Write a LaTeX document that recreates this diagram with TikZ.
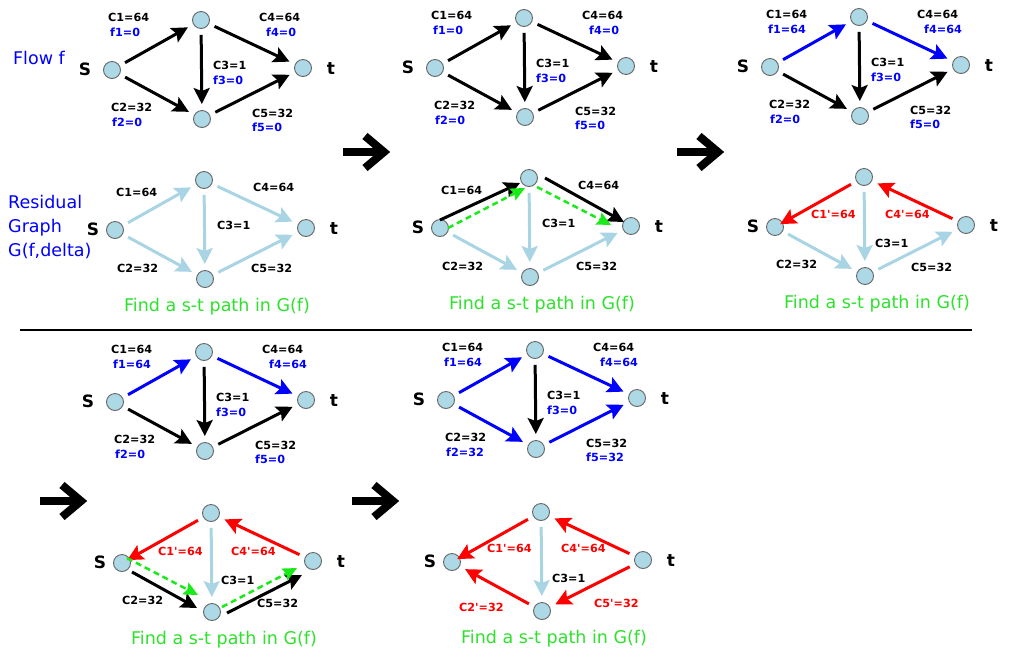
\documentclass[tikz,border=0pt]{standalone}
\usepackage{fontspec}
\setmainfont{DejaVu Sans}
\usetikzlibrary{arrows.meta,calc}

\definecolor{vtxfill}{RGB}{173,216,230}
\definecolor{resblue}{RGB}{168,212,228}
\definecolor{augreen}{RGB}{25,235,25}
\definecolor{txtgreen}{RGB}{45,225,45}

\tikzset{
  vtx/.style={circle,draw=black!60,line width=0.9pt,fill=vtxfill,minimum size=17pt,inner sep=0pt},
  endlbl/.style={font=\bfseries\fontsize{17}{20}\selectfont,inner sep=0pt},
  clbl/.style={font=\bfseries\fontsize{11.2}{13}\selectfont,anchor=west,inner sep=0pt},
  flbl/.style={clbl,text=blue},
  rlbl/.style={clbl,text=red},
  bigtxt/.style={font=\fontsize{17.5}{24}\selectfont,inner sep=0pt},
  findlbl/.style={bigtxt,text=txtgreen},
  netedge/.style={line width=3pt,-{Stealth[length=16pt,width=16pt,inset=3pt]},shorten <=6pt,shorten >=6pt},
  flowedge/.style={netedge,black},
  usededge/.style={netedge,blue},
  residedge/.style={netedge,resblue},
  backedge/.style={netedge,red},
  noshort/.style={shorten <=0pt,shorten >=0pt},
  augpath/.style={line width=2.5pt,augreen,dash pattern=on 6pt off 4pt,-{Stealth[length=14pt,width=13pt,inset=2pt]}},
  bigarrow/.pic={
    \draw[line width=8pt] (0,0) -- (40,0);
    \draw[line width=8pt] (22,-16) -- (41,0) -- (22,16);
  }
}

% four vertices of one network, s at the scope origin
\newcommand\vertices[2]{%
  \node[vtx] (#1s) at (0,0) {};
  \node[vtx] (#1u) at (89,-50) {};
  \node[vtx] (#1b) at (90,49) {};
  \node[vtx] (#1t) at (191,-2) {};
  \node[endlbl] (#1sname) at (#2,-1) {S};
  \node[endlbl] (#1tname) at (219,-1) {t};}

% capacities and flow values
\newcommand\flowlabels[6]{%
  \node[clbl] (#1c1) at (-4,-53) {C1=64};
  \node[flbl] (#1f1) at (-2,-38) {f1=#2};
  \node[clbl] (#1c4) at (147,-53) {C4=64};
  \node[flbl] (#1f4) at (154,-38) {f4=#5};
  \node[clbl] (#1c3) at (101,-5) {C3=1};
  \node[flbl] (#1f3) at (101,10) {f3=#4};
  \node[clbl] (#1c2) at (-1,37) {C2=32};
  \node[flbl] (#1f2) at (0,52) {f2=#3};
  \node[clbl] (#1c5) at (140,43) {C5=32};
  \node[flbl] (#1f5) at (140,57) {f5=#6};}

\newcommand\findpath[1]{%
  \node[findlbl] (#1find) at (102,77) {Find a s-t path in G(f)};}

\newcommand\rev{\textquotesingle}

\begin{document}
\begin{tikzpicture}[x=1pt,y=-1pt]
  \useasboundingbox (0,0) rectangle (1009,665);

  \node[bigtxt,text=blue] (flowname) at (39,58) {Flow f};
  \node[bigtxt,text=blue,align=left,anchor=west] (residname) at (8,227) {Residual\\Graph\\G(f,delta)};

  % flow f, step 0
  \begin{scope}[shift={(112,70)}]
    \vertices{a}{-27}
    \flowlabels{a}{0}{0}{0}{0}{0}
  \end{scope}
  \draw[flowedge] (as) -- (au);
  \draw[flowedge] (au) -- (at);
  \draw[flowedge] (au) -- (ab);
  \draw[flowedge] (as) -- (ab);
  \draw[flowedge] (ab) -- (at);

  \begin{scope}[shift={(115,230)}]
    \vertices{b}{-22}
    \node[clbl] (bc1) at (1,-38) {C1=64};
    \node[clbl] (bc4) at (138,-43) {C4=64};
    \node[clbl] (bc3) at (102,-5) {C3=1};
    \node[clbl] (bc2) at (2,38) {C2=32};
    \node[clbl] (bc5) at (136,38) {C5=32};
    \findpath{b}
  \end{scope}
  \draw[residedge] (bs) -- (bu);
  \draw[residedge] (bu) -- (bt);
  \draw[residedge] (bu) -- (bb);
  \draw[residedge] (bs) -- (bb);
  \draw[residedge] (bb) -- (bt);

  \pic (arrowone) at (343,152) {bigarrow};

  \begin{scope}[shift={(435,68)}]
    \vertices{c}{-27}
    \flowlabels{c}{0}{0}{0}{0}{0}
  \end{scope}
  \draw[flowedge] (cs) -- (cu);
  \draw[flowedge] (cu) -- (ct);
  \draw[flowedge] (cu) -- (cb);
  \draw[flowedge] (cs) -- (cb);
  \draw[flowedge] (cb) -- (ct);

  \begin{scope}[shift={(440,228)}]
    \vertices{d}{-22}
    \node[clbl] (dc1) at (1,-38) {C1=64};
    \node[clbl] (dc4) at (138,-43) {C4=64};
    \node[clbl] (dc3) at (102,-5) {C3=1};
    \node[clbl] (dc2) at (2,38) {C2=32};
    \node[clbl] (dc5) at (136,38) {C5=32};
    \findpath{d}
  \end{scope}
  \draw[residedge] (du) -- (db);
  \draw[residedge] (ds) -- (db);
  \draw[residedge] (db) -- (dt);
  \draw[flowedge,noshort] ($(ds)+(0,-8)$) -- ($(du)+(-9,5)$);
  \draw[flowedge,noshort] ($(du)+(16,0)$) -- ($(dt)+(-7,-4)$);
  \draw[augpath] ($(ds)+(8,0)$) -- ($(du)+(-4,10)$);
  \draw[augpath] ($(du)+(8,9)$) -- ($(dt)+(-20,-1)$);

  \pic (arrowtwo) at (677,152) {bigarrow};

  \begin{scope}[shift={(770,67)}]
    \vertices{e}{-27}
    \flowlabels{e}{64}{0}{0}{64}{0}
  \end{scope}
  \draw[usededge] (es) -- (eu);
  \draw[usededge] (eu) -- (et);
  \draw[flowedge] (eu) -- (eb);
  \draw[flowedge] (es) -- (eb);
  \draw[flowedge] (eb) -- (et);

  \begin{scope}[shift={(775,227)}]
    \vertices{f}{-22}
    \node[rlbl] (fc1) at (36,-13) {C1\rev=64};
    \node[rlbl] (fc4) at (110,-13) {C4\rev=64};
    \node[clbl] (fc3) at (100,16) {C3=1};
    \node[clbl] (fc2) at (1,37) {C2=32};
    \node[clbl] (fc5) at (136,40) {C5=32};
    \findpath{f}
  \end{scope}
  \draw[backedge,shorten >=-3pt] (fu) -- (fs);
  \draw[backedge] (ft) -- (fu);
  \draw[residedge] (fu) -- (fb);
  \draw[residedge] (fs) -- (fb);
  \draw[residedge] (fb) -- (ft);

  \draw[line width=2pt] (20,330) -- (972,330);

  % second augmentation
  \begin{scope}[shift={(115,402)}]
    \vertices{g}{-27}
    \flowlabels{g}{64}{0}{0}{64}{0}
  \end{scope}
  \draw[usededge] (gs) -- (gu);
  \draw[usededge] (gu) -- (gt);
  \draw[flowedge] (gu) -- (gb);
  \draw[flowedge] (gs) -- (gb);
  \draw[flowedge] (gb) -- (gt);

  \pic (arrowthree) at (40,501) {bigarrow};

  \begin{scope}[shift={(122,563)}]
    \vertices{h}{-22}
    \node[rlbl] (hc1) at (36,-12) {C1\rev=64};
    \node[rlbl] (hc4) at (109,-12) {C4\rev=64};
    \node[clbl] (hc3) at (99,17) {C3=1};
    \node[clbl] (hc2) at (0,37) {C2=32};
    \node[clbl] (hc5) at (135,40) {C5=32};
    \findpath{h}
  \end{scope}
  \draw[backedge,shorten >=-3pt] (hu) -- (hs);
  \draw[backedge] (ht) -- (hu);
  \draw[residedge] (hu) -- (hb);
  \draw[flowedge,noshort] ($(hs)+(10,9)$) -- ($(hb)+(-15,-4)$);
  \draw[flowedge,noshort] ($(hb)+(15,1)$) -- ($(ht)+(-11,14)$);
  \draw[augpath] ($(hs)+(5,-5)$) -- ($(hb)+(-14,-17)$);
  \draw[augpath] ($(hb)+(10,-5)$) -- ($(ht)+(-16,7)$);

  \pic (arrowfour) at (352,501) {bigarrow};

  \begin{scope}[shift={(446,400)}]
    \vertices{i}{-27}
    \flowlabels{i}{64}{32}{0}{64}{32}
  \end{scope}
  \draw[usededge] (is) -- (iu);
  \draw[usededge] (iu) -- (it);
  \draw[flowedge] (iu) -- (ib);
  \draw[usededge] (is) -- (ib);
  \draw[usededge] (ib) -- (it);

  \begin{scope}[shift={(452,562)}]
    \vertices{j}{-22}
    \node[rlbl] (jc1) at (35,-14) {C1\rev=64};
    \node[rlbl] (jc4) at (109,-14) {C4\rev=64};
    \node[clbl] (jc3) at (100,16) {C3=1};
    \node[rlbl] (jc2) at (7,45) {C2\rev=32};
    \node[rlbl] (jc5) at (142,41) {C5\rev=32};
    \findpath{j}
  \end{scope}
  \draw[backedge,shorten >=-3pt] (ju) -- (js);
  \draw[backedge] (jt) -- (ju);
  \draw[backedge] (jb) -- (js);
  \draw[backedge] (jt) -- (jb);
  \draw[residedge] (ju) -- (jb);
\end{tikzpicture}
\end{document}
